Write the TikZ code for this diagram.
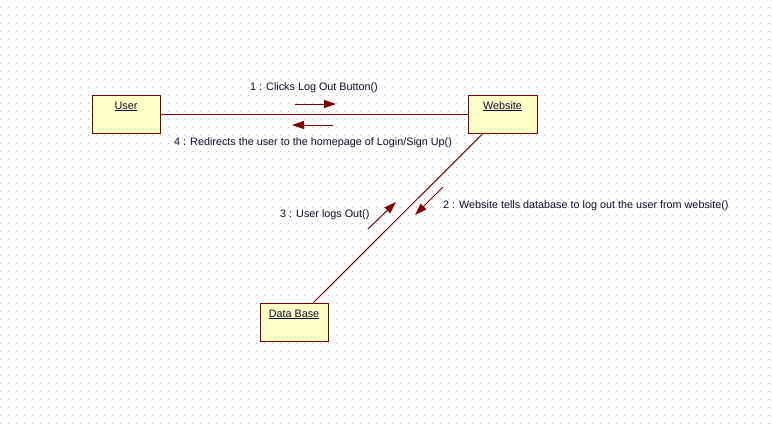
\documentclass[tikz,border=0pt]{standalone}
\usepackage{fontspec}
\setmainfont{Liberation Sans}
\definecolor{umlred}{HTML}{800000}
\definecolor{umlfill}{HTML}{FFFFC6}
\definecolor{umltext}{HTML}{0A0A30}
\definecolor{griddot}{HTML}{B8B8B8}
\usetikzlibrary{arrows.meta}

\begin{document}
\begin{tikzpicture}[x=1pt, y=-1pt,
    obj/.style={draw=umlred, fill=umlfill, line width=1pt, minimum width=68pt,
                inner xsep=2pt, inner ysep=4pt, text height=10pt, text depth=20pt,
                font=\fontsize{10.8}{12}\selectfont, text=umltext},
    link/.style={umlred, line width=1pt},
    msg/.style={-{Triangle[length=12pt, width=8pt]}, umlred, line width=1pt},
    msglabel/.style={anchor=west, inner sep=0pt, font=\fontsize{10.8}{12}\selectfont, text=umltext}
  ]
    % Background with dot grid
    \useasboundingbox (0,0) rectangle (772,426);
    \fill[white] (0,0) rectangle (772,426);
    \foreach \gx in {0,8,...,768}
      \foreach \gy in {7,15,...,423}
        \fill[griddot] (\gx,\gy) rectangle ++(1,1);

    % Objects
    \node[obj] (user) at (126,114) {\underline{User}};
    \node[obj, minimum width=69pt] (web) at (502.5,114) {\underline{Website}};
    \node[obj] (db) at (294,322) {\underline{Data Base}};

    % Links
    \draw[link] (user) -- (web);
    \draw[link] (db) -- (web);

    % Message arrows
    \coordinate (m1s) at (295,104);
    \coordinate (m1e) at (336,104);
    \coordinate (m4s) at (333,125);
    \coordinate (m4e) at (292,125);
    \coordinate (m3s) at (368,229);
    \coordinate (m3e) at (396,202);
    \coordinate (m2s) at (443,187);
    \coordinate (m2e) at (415,215);
    \draw[msg] (m1s) -- (m1e);
    \draw[msg] (m4s) -- (m4e);
    \draw[msg] (m3s) -- (m3e);
    \draw[msg] (m2s) -- (m2e);

    % Message labels
    \node[msglabel] (lab1) at (250,88) {1 : Clicks Log Out Button()};
    \node[msglabel] (lab4) at (174,143) {4 : Redirects the user to the homepage of Login/Sign Up()};
    \node[msglabel] (lab3) at (280,215) {3 : User logs Out()};
    \node[msglabel] (lab2) at (443,206) {2 : Website tells database to log out the user from website()};
  \end{tikzpicture}
\end{document}
